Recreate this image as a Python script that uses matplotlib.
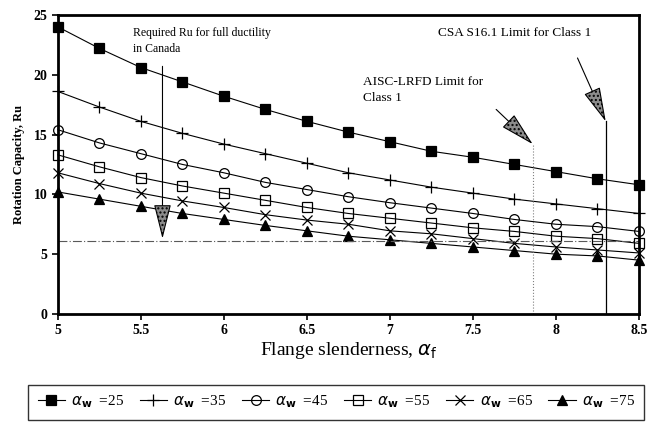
import numpy as np
import matplotlib.pyplot as plt

# Data
flange = [5.0, 5.25, 5.5, 5.75, 6.0, 6.25, 6.5, 6.75, 7.0, 7.25, 7.5, 7.75, 8.0, 8.25, 8.5]
ru_25 = [24.0, 22.2, 20.6, 19.4, 18.2, 17.1, 16.1, 15.2, 14.4, 13.6, 13.1, 12.5, 11.9, 11.3, 10.8]
ru_35 = [18.6, 17.3, 16.1, 15.1, 14.2, 13.4, 12.6, 11.8, 11.2, 10.6, 10.1, 9.6, 9.2, 8.8, 8.4]
ru_45 = [15.4, 14.3, 13.4, 12.5, 11.8, 11.0, 10.4, 9.8, 9.3, 8.85, 8.4, 7.9, 7.5, 7.3, 6.9]
ru_55 = [13.3, 12.3, 11.4, 10.7, 10.1, 9.5, 8.9, 8.4, 8.0, 7.6, 7.2, 6.9, 6.5, 6.3, 5.9]
ru_65 = [11.8, 10.9, 10.1, 9.45, 8.9, 8.3, 7.85, 7.5, 6.95, 6.7, 6.3, 5.9, 5.6, 5.35, 5.1]
ru_75 = [10.2, 9.6, 9.0, 8.4, 7.9, 7.4, 6.95, 6.5, 6.2, 5.9, 5.6, 5.3, 5.0, 4.85, 4.5]
web_values = [25, 35, 45, 55, 65, 75]

required_ru = 6.1
aisc_limit = 7.86
csa_limit = 8.3
canada_x = 5.63

plt.rcParams['font.family'] = ['Liberation Serif', 'DejaVu Serif']
plt.rcParams['mathtext.fontset'] = 'dejavusans'

fig = plt.figure(figsize=(6.58, 4.26), dpi=100)
ax = fig.add_axes([0.088, 0.263, 0.883, 0.702])

series = [ru_25, ru_35, ru_45, ru_55, ru_65, ru_75]
markers = ['s', '+', 'o', 's', 'x', '^']
fills = ['black', 'none', 'none', 'none', 'none', 'black']
sizes = [7, 8, 7, 7, 7, 7]
for vals, w, m, fc, ms in zip(series, web_values, markers, fills, sizes):
    ax.plot(flange, vals, color='black', lw=0.8, marker=m, ms=ms,
            mfc=fc, mec='black', mew=0.9, clip_on=False,
            label=r'$\alpha_\mathbf{w}$  =' + str(w))

# required Ru line
ax.plot([5.0, 8.5], [required_ru, required_ru], color='0.35', lw=0.8,
        ls=(0, (8, 2, 1, 2)))

# limits
ax.plot([aisc_limit, aisc_limit], [0, 14.2], color='0.5', lw=0.8, ls=':')
ax.plot([csa_limit, csa_limit], [0, 16.1], color='black', lw=0.9)

arrow = dict(arrowstyle='-|>,head_length=2.2,head_width=0.55', fc='0.55',
             ec='black', lw=0.8, hatch='....', shrinkA=0, shrinkB=0)
ax.annotate('', xy=(canada_x, 6.3), xytext=(canada_x, 20.7), arrowprops=arrow)
ax.annotate('', xy=(aisc_limit, 14.2), xytext=(7.64, 17.1), arrowprops=arrow)
ax.annotate('', xy=(csa_limit, 16.1), xytext=(8.13, 21.4), arrowprops=arrow)

ax.text(5.45, 24.0, 'Required Ru for full ductility\nin Canada', fontsize=8.5,
        va='top', ha='left', linespacing=1.5)
ax.text(7.29, 23.5, 'CSA S16.1 Limit for Class 1', fontsize=9.5, va='center')
ax.text(6.84, 19.9, 'AISC-LRFD Limit for\nClass 1', fontsize=9.5, va='top',
        linespacing=1.5)

ax.set_xlim(5, 8.5)
ax.set_ylim(0, 25)
ax.set_xticks([5, 5.5, 6, 6.5, 7, 7.5, 8, 8.5])
ax.set_xticklabels(['5', '5.5', '6', '6.5', '7', '7.5', '8', '8.5'])
ax.set_yticks([0, 5, 10, 15, 20, 25])
ax.tick_params(direction='out', length=4, width=1.2, labelsize=10)
for lab in ax.get_xticklabels() + ax.get_yticklabels():
    lab.set_fontweight('bold')
for sp in ax.spines.values():
    sp.set_linewidth(2)

ax.set_ylabel('Rotation Capacity, Ru', fontsize=9, fontweight='bold', labelpad=6)
ax.set_xlabel(r'Flange slenderness, $\alpha_\mathrm{f}$', fontsize=14, labelpad=2)

fig.legend(loc='center', bbox_to_anchor=(0.511, 0.056), ncol=6, frameon=True,
           fancybox=False, edgecolor='black', fontsize=11, handlelength=1.8,
           handletextpad=0.4, columnspacing=1.0, borderpad=0.6)

fig.savefig('out.png', dpi=100)
